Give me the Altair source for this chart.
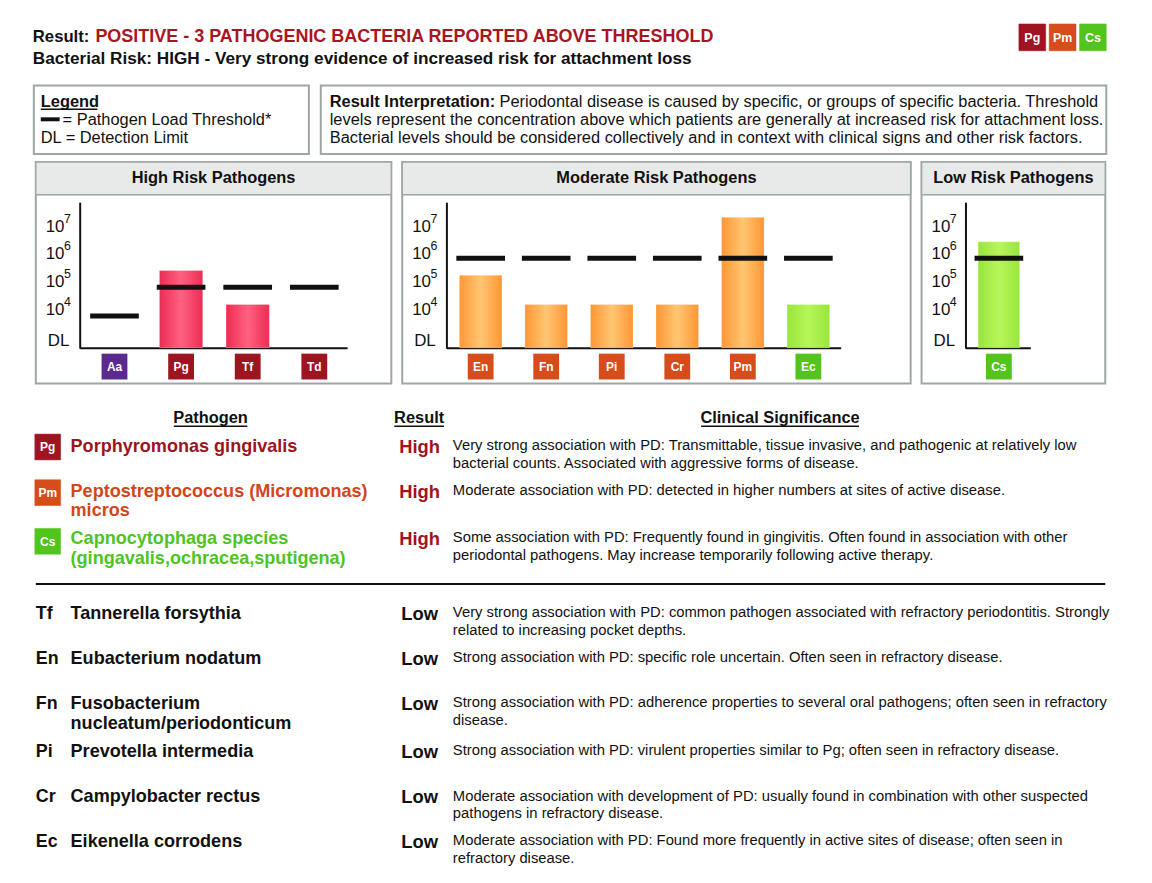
import altair as alt
import pandas as pd

# ---------------- data ----------------
high_codes = ["Aa", "Pg", "Tf", "Td"]
high_levels = [None, 5.42, 4.20, None]          # log10 bacterial load
high_thresholds = [3.78, 4.82, 4.82, 4.82]

moderate_codes = ["En", "Fn", "Pi", "Cr", "Pm", "Ec"]
moderate_levels = [5.25, 4.20, 4.20, 4.20, 7.33, 4.20]
moderate_thresholds = [5.86, 5.86, 5.86, 5.86, 5.86, 5.86]

low_codes = ["Cs"]
low_levels = [6.45]
low_thresholds = [5.86]

tick_values = [4, 5, 6, 7]
tick_bases = ["10", "10", "10", "10"]
tick_exps = ["4", "5", "6", "7"]
dl_value = 3
dl_label = "DL"

panel_titles = ["High Risk Pathogens", "Moderate Risk Pathogens", "Low Risk Pathogens"]

title_prefix = "Result:"
title_result = "POSITIVE - 3 PATHOGENIC BACTERIA REPORTED ABOVE THRESHOLD"
risk_line = "Bacterial Risk: HIGH - Very strong evidence of increased risk for attachment loss"
header_badges = ["Pg", "Pm", "Cs"]

legend_title = "Legend"
legend_lines = ["= Pathogen Load Threshold*", "DL = Detection Limit"]
interp_label = "Result Interpretation:"
interp_lines = [
    "Periodontal disease is caused by specific, or groups of specific bacteria. Threshold",
    "levels represent the concentration above which patients are generally at increased risk for attachment loss.",
    "Bacterial levels should be considered collectively and in context with clinical signs and other risk factors.",
]

table_headers = ["Pathogen", "Result", "Clinical Significance"]

high_rows_codes = ["Pg", "Pm", "Cs"]
high_rows_names = [
    ["Porphyromonas gingivalis"],
    ["Peptostreptococcus (Micromonas)", "micros"],
    ["Capnocytophaga species", "(gingavalis,ochracea,sputigena)"],
]
high_rows_result = ["High", "High", "High"]
high_rows_desc = [
    ["Very strong association with PD: Transmittable, tissue invasive, and pathogenic at relatively low",
     "bacterial counts. Associated with aggressive forms of disease."],
    ["Moderate association with PD: detected in higher numbers at sites of active disease."],
    ["Some association with PD: Frequently found in gingivitis. Often found in association with other",
     "periodontal pathogens. May increase temporarily following active therapy."],
]

low_rows_codes = ["Tf", "En", "Fn", "Pi", "Cr", "Ec"]
low_rows_names = [
    ["Tannerella forsythia"],
    ["Eubacterium nodatum"],
    ["Fusobacterium", "nucleatum/periodonticum"],
    ["Prevotella intermedia"],
    ["Campylobacter rectus"],
    ["Eikenella corrodens"],
]
low_rows_result = ["Low", "Low", "Low", "Low", "Low", "Low"]
low_rows_desc = [
    ["Very strong association with PD: common pathogen associated with refractory periodontitis. Strongly",
     "related to increasing pocket depths."],
    ["Strong association with PD: specific role uncertain. Often seen in refractory disease."],
    ["Strong association with PD: adherence properties to several oral pathogens; often seen in refractory",
     "disease."],
    ["Strong association with PD: virulent properties similar to Pg; often seen in refractory disease."],
    ["Moderate association with development of PD: usually found in combination with other suspected",
     "pathogens in refractory disease."],
    ["Moderate association with PD: Found more frequently in active sites of disease; often seen in",
     "refractory disease."],
]

# ---------------- styles & layout ----------------
FONT = "Liberation Sans"
OFF = 8  # page margin
DARKRED = "#9e1420"
ORANGE = "#d64c1a"
GREEN = "#52c41c"
PURPLE = "#5a2a8e"
BOXGRAY = "#9ea6a6"

BADGE = {"Aa": PURPLE, "Pg": DARKRED, "Tf": DARKRED, "Td": DARKRED,
         "En": ORANGE, "Fn": ORANGE, "Pi": ORANGE, "Cr": ORANGE, "Pm": ORANGE,
         "Ec": GREEN, "Cs": GREEN}
NAMECOLOR = {"Pg": "#9b1420", "Pm": "#d2461a", "Cs": "#4ec41e"}
GROUP = {"Aa": "pink", "Pg": "pink", "Tf": "pink", "Td": "pink",
         "En": "orange", "Fn": "orange", "Pi": "orange", "Cr": "orange", "Pm": "orange",
         "Ec": "green", "Cs": "green"}


def grad(edge, center):
    return alt.LinearGradient(
        gradient="linear", x1=0, x2=1, y1=0, y2=0,
        stops=[alt.GradientStop(color=edge, offset=0),
               alt.GradientStop(color=center, offset=0.5),
               alt.GradientStop(color=edge, offset=1)])


GRADS = {"pink": grad("#ec2d55", "#ff6180"),
         "orange": grad("#ff9634", "#ffc672"),
         "green": grad("#98e63a", "#b6f65a")}


def X(v):
    return v - OFF


def Y(v):
    return v - OFF


# y mapping of log values: pixel = 337 - 28*(v-3)
Y_LO, Y_HI = 2.643, 7.5
YPIX_LO, YPIX_HI = 347, 211

layers = []

# ---- boxes ----
rect_rows = []


def box(x0, y0, x1, y1, fill, stroke, sw):
    rect_rows.append(dict(x=X(x0), x2=X(x1), y=Y(y0), y2=Y(y1), fill=fill, stroke=stroke, sw=sw))


box(34, 83, 311, 152, "white", BOXGRAY, 2)
box(323, 83, 1114, 152, "white", BOXGRAY, 2)
panels = [(36, 394), (405, 917), (928, 1113)]
for (a, b) in panels:
    box(a, 160, b, 383, "white", BOXGRAY, 2)
for (a, b) in panels:
    box(a, 160, b, 193, "#e8eaea", BOXGRAY, 1.5)
# header badges
for i, c in enumerate(header_badges):
    x0 = 1026 + i * 30.5
    box(x0, 21, x0 + 27, 48, BADGE[c], BADGE[c], 0.5)
# table badges
badge_rows_y = [447, 493, 542]
for i, c in enumerate(high_rows_codes):
    yc = badge_rows_y[i]
    box(35, yc - 13, 61, yc + 13, BADGE[c], BADGE[c], 0.5)
# legend threshold swatch
box(41, 115, 60, 119, "#111111", "#111111", 0)

rects = pd.DataFrame(rect_rows)
layers.append(
    alt.Chart(rects).mark_rect().encode(
        x=alt.X("x:Q", scale=None, axis=None), x2="x2:Q",
        y=alt.Y("y:Q", scale=None, axis=None), y2="y2:Q",
        fill=alt.Fill("fill:N", scale=None),
        stroke=alt.Stroke("stroke:N", scale=None),
        strokeWidth=alt.StrokeWidth("sw:Q", scale=None),
    )
)

# ---- lines (axes, underlines, separator) ----
line_rows = []


def line(x0, y0, x1, y1, color="#111111", sw=2):
    line_rows.append(dict(x=X(x0), x2=X(x1), y=Y(y0), y2=Y(y1), color=color, sw=sw))


axes = [(80.7, 350), (450, 847), (972.7, 1038)]
for (a, b) in axes:
    line(a, 201, a, 348)
    line(a, 347.5, b, 347.5)
line(41, 107, 98, 107, sw=1.5)
line(175, 426, 249, 426, sw=1.5)
line(397, 426, 447, 426, sw=1.5)
line(706, 426, 865, 426, sw=1.5)
line(36, 585, 1113, 585, sw=2)
lines_df = pd.DataFrame(line_rows)
layers.append(
    alt.Chart(lines_df).mark_rule().encode(
        x=alt.X("x:Q", scale=None, axis=None), x2="x2:Q",
        y=alt.Y("y:Q", scale=None, axis=None), y2="y2:Q",
        color=alt.Color("color:N", scale=None),
        strokeWidth=alt.StrokeWidth("sw:Q", scale=None),
    )
)

# ---- bar panels ----
ys = alt.Scale(domain=[Y_LO, Y_HI], range=[Y(YPIX_LO), Y(YPIX_HI)], nice=False, zero=False)
panel_data = [(high_codes, high_levels, high_thresholds),
              (moderate_codes, moderate_levels, moderate_thresholds),
              (low_codes, low_levels, low_thresholds)]
label_x = [46, 415, 938]
for (codes, levels, thresholds), (ax0, ax1), lx in zip(panel_data, axes, label_x):
    df = pd.DataFrame({"code": codes, "level": levels, "threshold": thresholds})
    df["badge"] = [BADGE[c] for c in codes]
    df["group"] = [GROUP[c] for c in codes]
    xs = alt.Scale(domain=codes, range=[X(ax0 + 1), X(ax1)], paddingInner=0.35, paddingOuter=0.175)
    xenc = alt.X("code:N", scale=xs, axis=None, sort=codes)
    for g, gr in GRADS.items():
        sub = df[(df["group"] == g) & df["level"].notna()]
        if len(sub) == 0:
            continue
        layers.append(
            alt.Chart(sub).mark_bar(color=gr, stroke="#ffffff", strokeOpacity=0.25, strokeWidth=1).encode(
                x=xenc,
                y=alt.Y("level:Q", scale=ys, axis=None),
                y2=alt.datum(Y_LO),
            )
        )
    layers.append(
        alt.Chart(df).mark_tick(color="#111111", thickness=5, size=49, opacity=1).encode(
            x=xenc, y=alt.Y("threshold:Q", scale=ys, axis=None)
        )
    )
    layers.append(
        alt.Chart(df).mark_square(size=26 * 26, filled=True, opacity=1).encode(
            x=xenc, y=alt.value(Y(366)), color=alt.Color("badge:N", scale=None)
        )
    )
    layers.append(
        alt.Chart(df).mark_text(color="white", font=FONT, fontWeight="bold", fontSize=12, baseline="middle").encode(
            x=xenc, y=alt.value(Y(366.5)), text="code:N"
        )
    )
    tdf = pd.DataFrame({"value": tick_values, "base": tick_bases, "exp": tick_exps})
    layers.append(
        alt.Chart(tdf).mark_text(align="left", baseline="middle", font=FONT, fontSize=17, color="#111111").encode(
            x=alt.value(X(lx)), y=alt.Y("value:Q", scale=ys, axis=None), text="base:N"
        )
    )
    layers.append(
        alt.Chart(tdf).mark_text(align="left", baseline="middle", font=FONT, fontSize=12.5, color="#111111", dy=-8).encode(
            x=alt.value(X(lx + 18.5)), y=alt.Y("value:Q", scale=ys, axis=None), text="exp:N"
        )
    )
    dldf = pd.DataFrame({"value": [dl_value], "label": [dl_label]})
    layers.append(
        alt.Chart(dldf).mark_text(align="left", baseline="middle", font=FONT, fontSize=17, color="#111111", dy=3).encode(
            x=alt.value(X(lx + 2)), y=alt.Y("value:Q", scale=ys, axis=None), text="label:N"
        )
    )

# ---- texts ----
texts = []


def T(x, y, s, color="#111111", size=15, weight="normal", align="left"):
    texts.append(dict(x=X(x), y=Y(y), text=s, color=color, size=size, weight=weight, align=align))


T(33, 34, title_prefix, size=16.8, weight="bold")
T(96, 34, title_result, color="#a8161f", size=18.1, weight="bold")
T(33, 56, risk_line, size=17.3, weight="bold")
for i, c in enumerate(header_badges):
    T(1026 + i * 30.5 + 13.5, 35, c, color="white", size=12.5, weight="bold", align="center")

T(41, 100, legend_title, size=16.5, weight="bold")
T(63, 118, legend_lines[0], size=16.5)
T(41, 136, legend_lines[1], size=16.5)
T(332, 100, interp_label, size=16.5, weight="bold")
T(503, 100, interp_lines[0], size=16.5)
T(332, 118, interp_lines[1], size=16.5)
T(332, 136, interp_lines[2], size=16.5)

for (a, b), t in zip(panels, panel_titles):
    T((a + b) / 2, 176.5, t, size=16.5, weight="bold", align="center")

T(212, 418, table_headers[0], size=16.5, weight="bold", align="center")
T(422, 418, table_headers[1], size=16.5, weight="bold", align="center")
T(785.5, 418, table_headers[2], size=16.5, weight="bold", align="center")

high_y = [447, 492, 540]
for i, c in enumerate(high_rows_codes):
    y = high_y[i]
    T(48, badge_rows_y[i] + 0.5, c, color="white", size=12, weight="bold", align="center")
    for j, nm in enumerate(high_rows_names[i]):
        T(71, y + 19.5 * j, nm, color=NAMECOLOR[c], size=18.2, weight="bold")
    T(402, y, high_rows_result[i], color=DARKRED, size=18.5, weight="bold")
    for j, d in enumerate(high_rows_desc[i]):
        T(456, y - 1 + 18 * j, d, size=14.9)

low_y = [615, 661, 706, 754, 800, 845]
for i, c in enumerate(low_rows_codes):
    y = low_y[i]
    T(36, y, c, size=18, weight="bold")
    for j, nm in enumerate(low_rows_names[i]):
        T(71, y + 19.5 * j, nm, size=18.2, weight="bold")
    T(404, y, low_rows_result[i], size=18.5, weight="bold")
    for j, d in enumerate(low_rows_desc[i]):
        T(456, y - 1 + 18 * j, d, size=14.9)

tdf_all = pd.DataFrame(texts)
for (w, al), sub in tdf_all.groupby(["weight", "align"]):
    layers.append(
        alt.Chart(sub).mark_text(align=al, baseline="middle", font=FONT, fontWeight=w).encode(
            x=alt.X("x:Q", scale=None, axis=None),
            y=alt.Y("y:Q", scale=None, axis=None),
            text="text:N",
            color=alt.Color("color:N", scale=None),
            size=alt.Size("size:Q", scale=None),
        )
    )

chart = (
    alt.layer(*layers)
    .resolve_scale(x="independent", y="independent")
    .properties(width=1144, height=875, padding=0, background="white",
                autosize=alt.AutoSizeParams(type="none"))
    .configure_view(strokeWidth=0)
)

chart.save("out.html", embed_options={"renderer": "svg", "actions": False})
